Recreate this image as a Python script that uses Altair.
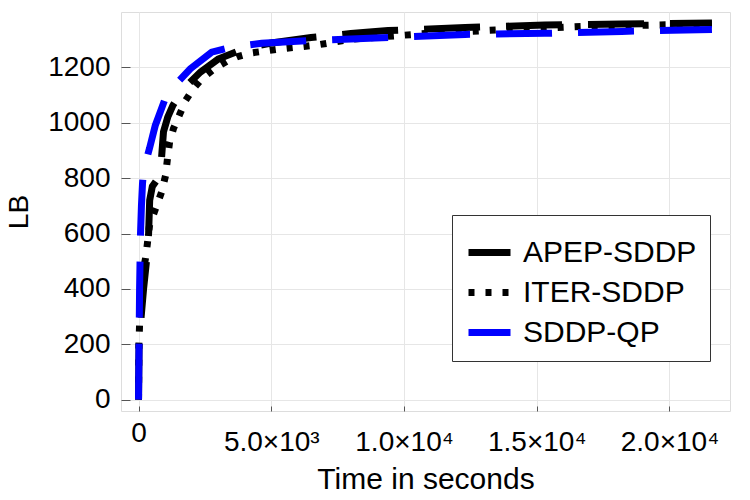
import altair as alt
import pandas as pd

series_names = ["APEP-SDDP", "ITER-SDDP", "SDDP-QP"]

apep_x = [0, 20, 100, 190, 300, 380, 420, 520, 820, 880, 940, 1100, 1295, 1700, 2330,
          3000, 4000, 5000, 6500, 8000, 9400, 12300, 15300, 18200, 21600]
apep_y = [0, 200, 300, 400, 500, 600, 720, 770, 811, 890, 967, 1020, 1063, 1124, 1183,
          1230, 1268, 1288, 1308, 1322, 1333, 1344, 1353, 1357, 1360]

iter_x = [0, 15, 50, 120, 190, 280, 415, 680, 870, 1020, 1090, 1170, 1320, 1550, 1770,
          2080, 2420, 2870, 3320, 3770, 4230, 4910, 5550, 6150, 6790, 7430, 8000,
          10800, 13500, 16800, 19500, 21600]
iter_y = [0, 200, 300, 400, 470, 520, 630, 700, 750, 810, 870, 930, 980, 1030, 1080,
          1125, 1162, 1196, 1222, 1240, 1252, 1261, 1269, 1275, 1282, 1292, 1302,
          1322, 1335, 1348, 1353, 1357]

qp_x = [0, 20, 40, 75, 110, 150, 190, 415, 630, 1008, 1430, 1950, 2755, 3600, 4640,
        6500, 9400, 12300, 15300, 18200, 21600]
qp_y = [0, 200, 400, 600, 700, 780, 830, 908, 990, 1088, 1142, 1195, 1255, 1275, 1287,
        1297, 1308, 1319, 1323, 1330, 1337]

x_ticks = [0, 5000, 10000, 15000, 20000]
x_tick_labels = ["0", "5.0×10³", "1.0×10⁴", "1.5×10⁴", "2.0×10⁴"]
y_ticks = [0, 200, 400, 600, 800, 1000, 1200]

rows = []
for name, xs, ys in [(series_names[0], apep_x, apep_y),
                     (series_names[1], iter_x, iter_y),
                     (series_names[2], qp_x, qp_y)]:
    for i, (a, b) in enumerate(zip(xs, ys)):
        rows.append({"series": name, "t": a, "lb": b, "idx": i})
df = pd.DataFrame(rows)

label_expr = " : ".join(f"datum.value === {v} ? '{l}'" for v, l in zip(x_ticks, x_tick_labels)) + " : ''"

FONT = "Liberation Sans"

x_enc = alt.X("t:Q", scale=alt.Scale(domain=[-660, 22280], nice=False, zero=False),
              axis=alt.Axis(values=x_ticks, labelExpr=label_expr, title="Time in seconds",
                            offset=-5, tickSize=5, domain=False, grid=True,
                            labelPadding={"condition": {"test": "datum.value === 0", "value": 8}, "value": 17},
                            labelFontSize=28, titleFontSize=30, titlePadding=8,
                            labelFont=FONT, titleFont=FONT, titleFontWeight="normal",
                            labelColor="black", titleColor="black",
                            tickColor="#555", gridColor="#e6e6e6", labelFlush=False))
y_enc = alt.Y("lb:Q", scale=alt.Scale(domain=[-41, 1400], nice=False, zero=False),
              axis=alt.Axis(values=y_ticks, format="d", title="LB",
                            offset=-9, tickSize=9, domain=False, grid=True,
                            labelPadding=11, labelFontSize=28, titleFontSize=28,
                            titlePadding=14, labelFont=FONT, titleFont=FONT,
                            titleFontWeight="normal", labelColor="black", titleColor="black",
                            tickColor="#555", gridColor="#e6e6e6"))

legend = alt.Legend(
    title=None, orient="none", legendX=331, legendY=203, padding=13,
    strokeColor="#333", fillColor="white", labelFont=FONT, labelFontSize=30,
    labelColor="black", symbolType="stroke", symbolSize=1764, symbolStrokeWidth=7,
    rowPadding=-3, labelOffset=9, labelLimit=400,
)

color_enc = alt.Color("series:N", scale=alt.Scale(domain=series_names, range=["black", "black", "#0000ff"]),
                      legend=legend)
dash_enc = alt.StrokeDash("series:N", scale=alt.Scale(domain=series_names, range=[[56, 26], [6, 11], [56, 26]]),
                          legend=legend)

layers = []
for name in ["ITER-SDDP", "APEP-SDDP", "SDDP-QP"]:
    layers.append(
        alt.Chart(df).transform_filter(alt.datum.series == name)
        .mark_line(strokeWidth=7, strokeCap="butt", clip=True)
        .encode(x=x_enc, y=y_enc, color=color_enc, strokeDash=dash_enc, order="idx:Q")
    )

chart = alt.layer(*layers).properties(
    width=609, height=399,
    autosize=alt.AutoSizeParams(type="none"),
    padding={"left": 113, "top": 4, "right": 12, "bottom": 81},
).configure_view(stroke="#777", strokeWidth=1).configure(background="white")

chart.save("out.html", embed_options={"renderer": "svg", "actions": False})
